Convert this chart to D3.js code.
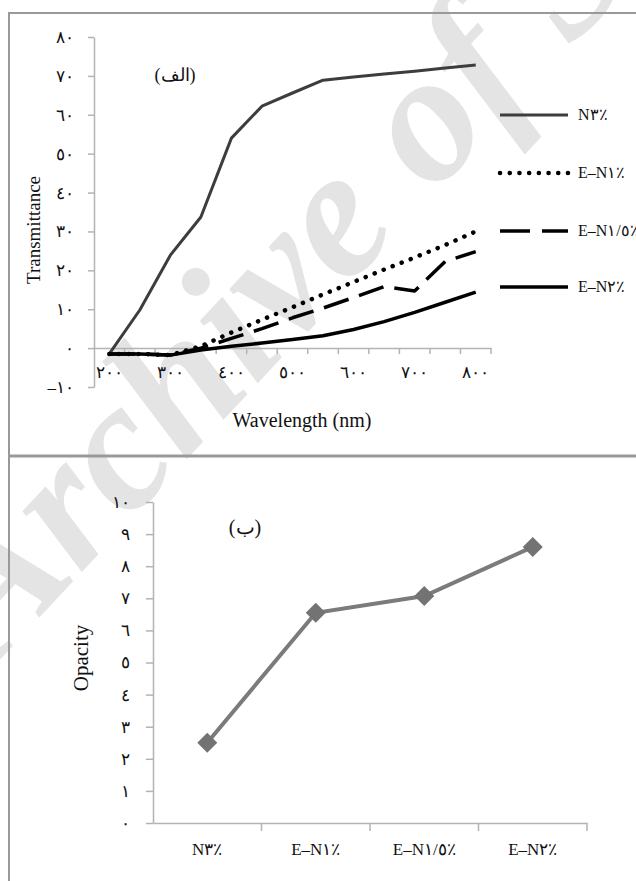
<!DOCTYPE html>
<html>
<head>
<meta charset="utf-8">
<script src="https://d3js.org/d3.v7.min.js"></script>
<style>
  body { margin: 0; background: #fff; }
  svg text { font-family: "Liberation Serif", "DejaVu Serif", serif; }
</style>
</head>
<body>
<div id="chart"></div>
<script>
// STEP 1: Data
var wavelengths = [200, 250, 300, 350, 400, 450, 500, 550, 600, 650, 700, 750, 800];
var seriesNames = ["N٣٪", "E–N١٪", "E–N١/٥٪", "E–N٢٪"];
var n3Values   = [-1.5, 9.8, 23.9, 33.7, 54, 62.2, 65.6, 68.9, 69.7, 70.5, 71.2, 72, 72.8];
var en1Values  = [-1.5, -1.5, -1.8, 0.5, 4, 7.3, 10.5, 13.8, 17, 20.2, 23.3, 26.5, 30];
var en15Values = [-1.5, -1.5, -1.8, 0, 2.5, 5, 7.8, 10.3, 13, 15.8, 14.7, 22.3, 24.8];
var en2Values  = [-1.5, -1.5, -1.8, -0.5, 0.5, 1.3, 2.2, 3.2, 4.8, 6.8, 9.2, 11.8, 14.4];
var transTicks = [-10, 0, 10, 20, 30, 40, 50, 60, 70, 80];
var wlLabels = [200, 300, 400, 500, 600, 700, 800];

var samples = ["N٣٪", "E–N١٪", "E–N١/٥٪", "E–N٢٪"];
var opacityValues = [2.5, 6.55, 7.07, 8.6];
var opacityTicks = [0, 1, 2, 3, 4, 5, 6, 7, 8, 9, 10];

// Arabic-Indic digits for tick labels
function toArabic(n) {
    var digits = "٠١٢٣٤٥٦٧٨٩";
    var s = String(Math.abs(n)).replace(/[0-9]/g, d => digits[+d]);
    return n < 0 ? "–" + s : s;
}

// STEP 2: SVG
var svgWidth = 636;
var svgHeight = 881;
var axisColor = "#b3b3b3";

var svg = d3.select("#chart")
    .append("svg")
    .attr("width", svgWidth)
    .attr("height", svgHeight);

// watermark
svg.append("text")
    .attr("transform", "translate(-5, 665) rotate(-47)")
    .attr("font-size", "185px")
    .attr("font-style", "italic")
    .attr("font-weight", "bold")
    .attr("fill", "#e4e4e4")
    .text("Archive of SID");

// panel frames
var frame = svg.append("g")
    .attr("fill", "none")
    .attr("stroke", "#999");
frame.append("path").attr("stroke-width", 2).attr("d", "M636,13H9V881");
frame.append("path").attr("stroke-width", 3).attr("d", "M9,456H636");

// STEP 3: Top chart (transmittance)
var xScale = d3.scaleBand()
    .domain(wavelengths)
    .range([94, 491]);

var yScale = d3.scaleLinear()
    .domain([-10, 80])
    .range([387, 37]);

var xc = d => xScale(d) + xScale.bandwidth() / 2;

var topChart = svg.append("g");

var leftAxis = d3.axisLeft(yScale)
    .tickValues(transTicks)
    .tickSize(6)
    .tickSizeOuter(0)
    .tickPadding(14)
    .tickFormat(toArabic);

var yAxis = topChart.append("g")
    .attr("transform", "translate(94, 0)")
    .call(leftAxis);

var bottomAxis = d3.axisBottom(xScale)
    .tickValues(wlLabels)
    .tickSize(0)
    .tickSizeOuter(0)
    .tickPadding(18)
    .tickFormat(toArabic);

var xAxis = topChart.append("g")
    .attr("transform", `translate(0, ${yScale(0)})`)
    .call(bottomAxis);

// tick marks between categories
topChart.append("g")
    .selectAll("line")
    .data(wavelengths.slice(1).concat(["end"]))
    .enter()
    .append("line")
    .attr("x1", d => d === "end" ? xScale.range()[1] : xScale(d))
    .attr("x2", d => d === "end" ? xScale.range()[1] : xScale(d))
    .attr("y1", yScale(0))
    .attr("y2", yScale(0) + 6)
    .attr("stroke", axisColor)
    .attr("stroke-width", 1.5);

[yAxis, xAxis].forEach(function(ax) {
    ax.selectAll(".domain, .tick line").attr("stroke", axisColor).attr("stroke-width", 1.5);
    ax.selectAll("text").attr("font-size", "17px").attr("fill", "#111");
});

var lineGen = d3.line()
    .x((d, i) => xc(wavelengths[i]))
    .y(d => yScale(d));

var lineStyles = [
    { values: n3Values, color: "#3d3d3d", width: 3, dash: null, cap: "butt" },
    { values: en1Values, color: "#000", width: 4.5, dash: "0.1 9.6", cap: "round" },
    { values: en15Values, color: "#000", width: 3.5, dash: "26 11", cap: "butt" },
    { values: en2Values, color: "#000", width: 3.5, dash: null, cap: "butt" }
];

topChart.selectAll(".series")
    .data(lineStyles)
    .enter()
    .append("path")
    .attr("class", "series")
    .attr("d", d => lineGen(d.values))
    .attr("fill", "none")
    .attr("stroke", d => d.color)
    .attr("stroke-width", d => d.width)
    .attr("stroke-dasharray", d => d.dash)
    .attr("stroke-linecap", d => d.cap)
    .attr("stroke-linejoin", "round");

// legend
var legendY = [115, 173, 231, 287];
var legend = topChart.selectAll(".legend")
    .data(lineStyles)
    .enter()
    .append("g")
    .attr("class", "legend")
    .attr("transform", (d, i) => `translate(500, ${legendY[i]})`);

legend.append("line")
    .attr("x1", 0)
    .attr("x2", 68)
    .attr("stroke", d => d.color)
    .attr("stroke-width", d => d.width)
    .attr("stroke-dasharray", d => d.dash === "26 11" ? "30 12" : d.dash)
    .attr("stroke-linecap", d => d.cap);

legend.append("text")
    .attr("x", 78)
    .attr("y", 5)
    .attr("font-size", "16px")
    .attr("fill", "#111")
    .text((d, i) => seriesNames[i]);

topChart.append("text")
    .attr("x", 175)
    .attr("y", 81)
    .attr("text-anchor", "middle")
    .attr("font-size", "18px")
    .attr("fill", "#111")
    .text("(الف)");

topChart.append("text")
    .attr("transform", "translate(40, 230) rotate(-90)")
    .attr("text-anchor", "middle")
    .attr("font-size", "19px")
    .attr("fill", "#111")
    .text("Transmittance");

topChart.append("text")
    .attr("x", 302)
    .attr("y", 427)
    .attr("text-anchor", "middle")
    .attr("font-size", "20px")
    .attr("fill", "#111")
    .text("Wavelength (nm)");

// STEP 4: Bottom chart (opacity)
var x2Scale = d3.scaleBand()
    .domain(samples)
    .range([153, 587]);

var y2Scale = d3.scaleLinear()
    .domain([0, 10])
    .range([823, 502]);

var bottomChart = svg.append("g");

var y2Axis = bottomChart.append("g")
    .attr("transform", "translate(153, 0)")
    .call(d3.axisLeft(y2Scale)
        .tickValues(opacityTicks)
        .tickSize(7)
        .tickSizeOuter(0)
        .tickPadding(16)
        .tickFormat(toArabic));

var x2Axis = bottomChart.append("g")
    .attr("transform", `translate(0, ${y2Scale(0)})`)
    .call(d3.axisBottom(x2Scale)
        .tickSize(0)
        .tickSizeOuter(0)
        .tickPadding(20));

bottomChart.append("g")
    .selectAll("line")
    .data(samples.slice(1).concat(["end"]))
    .enter()
    .append("line")
    .attr("x1", d => d === "end" ? x2Scale.range()[1] : x2Scale(d))
    .attr("x2", d => d === "end" ? x2Scale.range()[1] : x2Scale(d))
    .attr("y1", y2Scale(0))
    .attr("y2", y2Scale(0) + 8)
    .attr("stroke", axisColor)
    .attr("stroke-width", 1.5);

[y2Axis, x2Axis].forEach(function(ax) {
    ax.selectAll(".domain, .tick line").attr("stroke", axisColor).attr("stroke-width", 1.5);
    ax.selectAll("text").attr("font-size", "17px").attr("fill", "#111");
});

var x2c = d => x2Scale(d) + x2Scale.bandwidth() / 2;

bottomChart.append("path")
    .datum(opacityValues)
    .attr("d", d3.line().x((d, i) => x2c(samples[i])).y(d => y2Scale(d)))
    .attr("fill", "none")
    .attr("stroke", "#7b7b7b")
    .attr("stroke-width", 4);

bottomChart.selectAll(".marker")
    .data(opacityValues)
    .enter()
    .append("path")
    .attr("class", "marker")
    .attr("d", d3.symbol(d3.symbolSquare, 200))
    .attr("transform", (d, i) => `translate(${x2c(samples[i])}, ${y2Scale(d)}) rotate(45)`)
    .attr("fill", "#737373");

bottomChart.append("text")
    .attr("x", 245)
    .attr("y", 534)
    .attr("text-anchor", "middle")
    .attr("font-size", "20px")
    .attr("fill", "#111")
    .text("(ب)");

bottomChart.append("text")
    .attr("transform", "translate(88, 658) rotate(-90)")
    .attr("text-anchor", "middle")
    .attr("font-size", "21px")
    .attr("fill", "#111")
    .text("Opacity");
</script>
</body>
</html>
